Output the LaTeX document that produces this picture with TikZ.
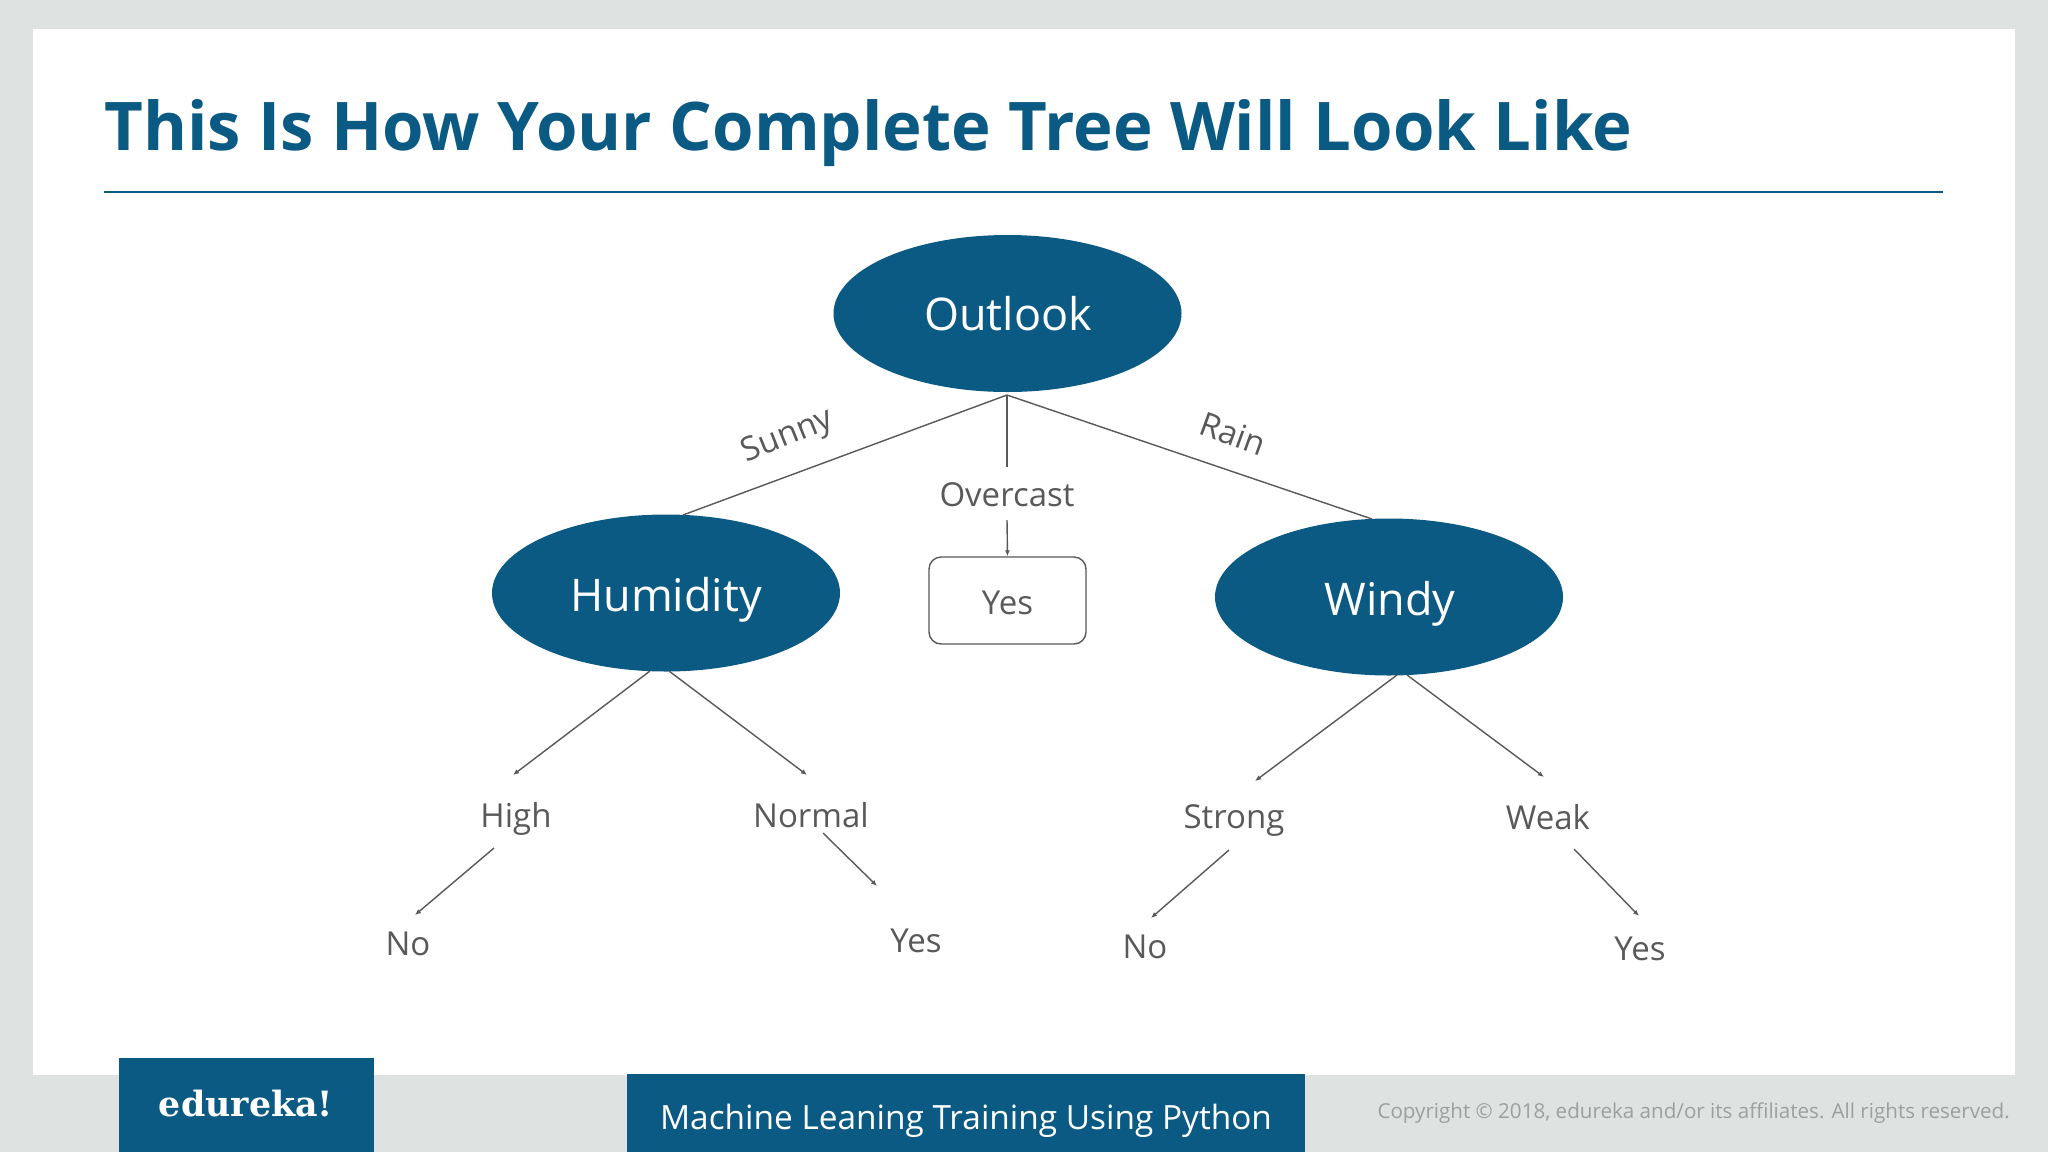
\documentclass[tikz,border=0pt]{standalone}
\usepackage{fontspec}
\setmainfont{Open Sans}
\newfontfamily\slabfont{DejaVu Serif}
\usetikzlibrary{arrows.meta,shapes.geometric}
\definecolor{teal1}{HTML}{0B5A84}
\definecolor{greybg}{HTML}{DEE3E2}
\definecolor{txt}{HTML}{595959}
\newcommand{\fsz}[1]{\fontsize{#1}{#1}\selectfont}
\tikzset{
  x=1pt,y=-1pt,
  oval/.style={ellipse,fill=teal1,minimum width=348pt,minimum height=157pt,inner sep=0pt},
  ovaltext/.style={inner sep=0pt,text=white,font=\fsz{45}},
  lab/.style={inner sep=0pt,text=txt,font=\fsz{33}},
  edge/.style={draw=txt,line width=1.4pt},
  arr/.style={edge,-{Latex[length=6pt,width=5pt]}},
}
\begin{document}
\begin{tikzpicture}
\useasboundingbox (0,0) rectangle (2048,1152);
\fill[greybg] (0,0) rectangle (2048,1152);
\fill[white] (33,29) rectangle (2015,1075);
% title
\node[anchor=west,inner sep=0pt,text=teal1,font=\fsz{67.1}\bfseries] (title) at (104,133) {This Is How Your Complete Tree Will Look Like};
\coordinate (ruleL) at (104,192);
\coordinate (ruleR) at (1943,192);
\draw[teal1,line width=1.6pt] (ruleL) -- (ruleR);
% ovals
\node[oval] (outlook) at (1007.5,313.5) {};
\node[oval] (humidity) at (666,593) {};
\node[oval] (windy) at (1389,597) {};
\node[ovaltext] (outlooktext) at (1008,314) {Outlook};
\node[ovaltext] (humiditytext) at (666,600) {Humidity};
\node[ovaltext] (windytext) at (1390,604) {Windy};
\node[draw=txt,line width=1.4pt,rounded corners=12pt,minimum width=157pt,minimum height=87pt,inner sep=0pt] (yesbox) at (1007.5,600.5) {};
\node[lab] (yestext) at (1007.5,603) {Yes};
% labels
\node[lab,rotate=22] (sunny) at (788,437) {Sunny};
\node[lab,rotate=-20] (rain) at (1233,434) {Rain};
\node[lab] (overcast) at (1007,495) {Overcast};
\node[lab] (high) at (516,819) {High};
\node[lab] (normal) at (811,815) {Normal};
\node[lab] (strong) at (1234,821) {Strong};
\node[lab] (weak) at (1548,817) {Weak};
\node[lab] (no1) at (408,944) {No};
\node[lab] (yes1) at (916,941) {Yes};
\node[lab] (no2) at (1145,947) {No};
\node[lab] (yes2) at (1640,949) {Yes};
% connector ends
\coordinate (apex) at (1007,395);
\coordinate (hTop) at (683,515);
\coordinate (wTop) at (1372,519);
\coordinate (oA) at (1007,467);
\coordinate (oB) at (1007,520);
\coordinate (hL) at (650,671);
\coordinate (hLe) at (513,775);
\coordinate (hR) at (669,671);
\coordinate (hRe) at (807,775);
\coordinate (wL) at (1397,675);
\coordinate (wLe) at (1255,781);
\coordinate (wR) at (1407,675);
\coordinate (wRe) at (1544,777);
\coordinate (n1a) at (494,848);
\coordinate (n1b) at (415,915);
\coordinate (y1a) at (823,833);
\coordinate (y1b) at (877,886);
\coordinate (n2a) at (1229,850);
\coordinate (n2b) at (1151,918);
\coordinate (y2a) at (1574,849);
\coordinate (y2b) at (1639,916);
% connectors
\draw[edge] (apex) -- (hTop);
\draw[edge] (apex) -- (wTop);
\draw[edge] (apex) -- (oA);
\draw[arr] (oB) -- (yesbox.north);
\draw[arr] (hL) -- (hLe);
\draw[arr] (hR) -- (hRe);
\draw[arr] (wL) -- (wLe);
\draw[arr] (wR) -- (wRe);
\draw[arr] (n1a) -- (n1b);
\draw[arr] (y1a) -- (y1b);
\draw[arr] (n2a) -- (n2b);
\draw[arr] (y2a) -- (y2b);
% footer
\fill[teal1] (119,1058) rectangle (374,1152);
\fill[teal1] (627,1074) rectangle (1305,1152);
\node[inner sep=0pt,text=white,font=\slabfont\bfseries\fsz{34.8}] (logo) at (246,1104) {edureka!};
\node[inner sep=0pt,text=white,font=\fsz{33.4}] (course) at (966,1121) {Machine Leaning Training Using Python};
\node[anchor=east,inner sep=0pt,text=black!38,font=\fsz{20.6}] (copy) at (2010,1113) {Copyright © 2018, edureka and/or its affiliates. All rights reserved.};
\end{tikzpicture}
\end{document}
